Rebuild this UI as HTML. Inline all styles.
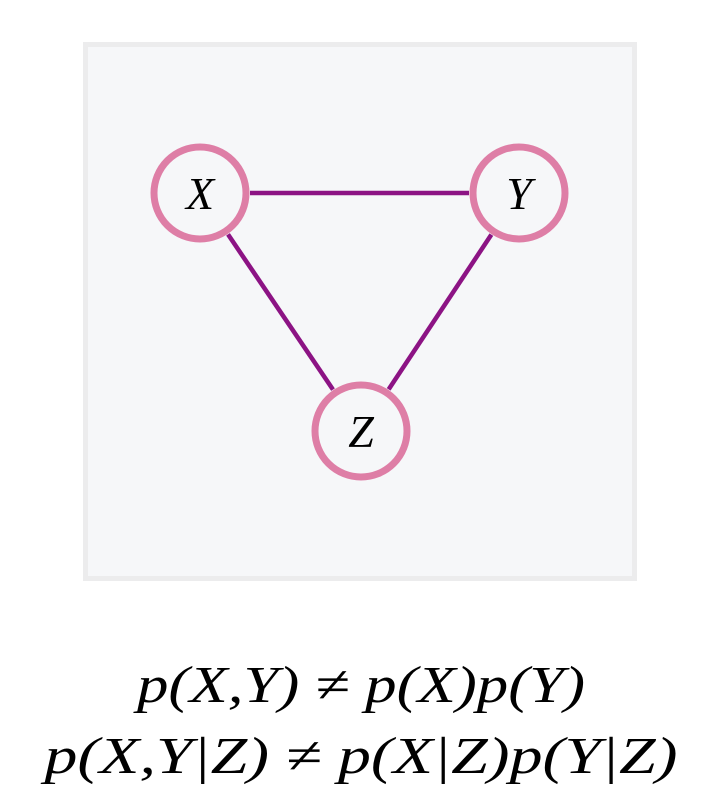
<!DOCTYPE html>
<html><head><meta charset="utf-8"><style>
html,body{margin:0;padding:0;background:#fff;}
svg{display:block;}
</style></head><body>
<svg width="720" height="800" viewBox="0 0 720 800">
<rect x="85.5" y="44.5" width="549" height="534" fill="#f6f7f9" stroke="#ececed" stroke-width="5"/>
<g id="edges"></g>
<g id="nodes"></g>
<text x="361" y="702" font-family="Liberation Serif, serif" font-style="italic" font-size="52" text-anchor="middle" textLength="448" lengthAdjust="spacingAndGlyphs" fill="#000">p(X,Y) ≠ p(X)p(Y)</text>
<text x="361" y="773" font-family="Liberation Serif, serif" font-style="italic" font-size="52" text-anchor="middle" textLength="633" lengthAdjust="spacingAndGlyphs" fill="#000">p(X,Y|Z) ≠ p(X|Z)p(Y|Z)</text>
</svg>
<script>
const nodeLabels = ["X", "Y", "Z"];
const nodeX = [200, 519, 361];
const nodeY = [193, 193, 431];
const edgeFrom = [0, 0, 1];
const edgeTo = [1, 2, 2];
const NS = "http://www.w3.org/2000/svg";
const R = 50;
const eg = document.getElementById("edges");
for (let i = 0; i < edgeFrom.length; i++) {
  const a = edgeFrom[i], b = edgeTo[i];
  const dx = nodeX[b] - nodeX[a], dy = nodeY[b] - nodeY[a];
  const d = Math.hypot(dx, dy);
  const l = document.createElementNS(NS, "line");
  l.setAttribute("x1", nodeX[a] + dx / d * R);
  l.setAttribute("y1", nodeY[a] + dy / d * R);
  l.setAttribute("x2", nodeX[b] - dx / d * R);
  l.setAttribute("y2", nodeY[b] - dy / d * R);
  l.setAttribute("stroke", "#8c1384");
  l.setAttribute("stroke-width", "4.5");
  
  
  eg.appendChild(l);
}
const ng = document.getElementById("nodes");
for (let i = 0; i < nodeLabels.length; i++) {
  const c = document.createElementNS(NS, "circle");
  c.setAttribute("cx", nodeX[i]);
  c.setAttribute("cy", nodeY[i]);
  c.setAttribute("r", R - 4);
  c.setAttribute("fill", "#f6f7f9");
  c.setAttribute("stroke", "#de7ea6");
  c.setAttribute("stroke-width", "7");
  
  
  ng.appendChild(c);
  const t = document.createElementNS(NS, "text");
  t.setAttribute("x", nodeX[i]);
  t.setAttribute("y", nodeY[i] + 16);
  t.setAttribute("text-anchor", "middle");
  t.setAttribute("font-family", "Liberation Serif, serif");
  t.setAttribute("font-style", "italic");
  t.setAttribute("font-size", "46");
  t.textContent = nodeLabels[i];
  
  
  ng.appendChild(t);
}
</script>
</body></html>
